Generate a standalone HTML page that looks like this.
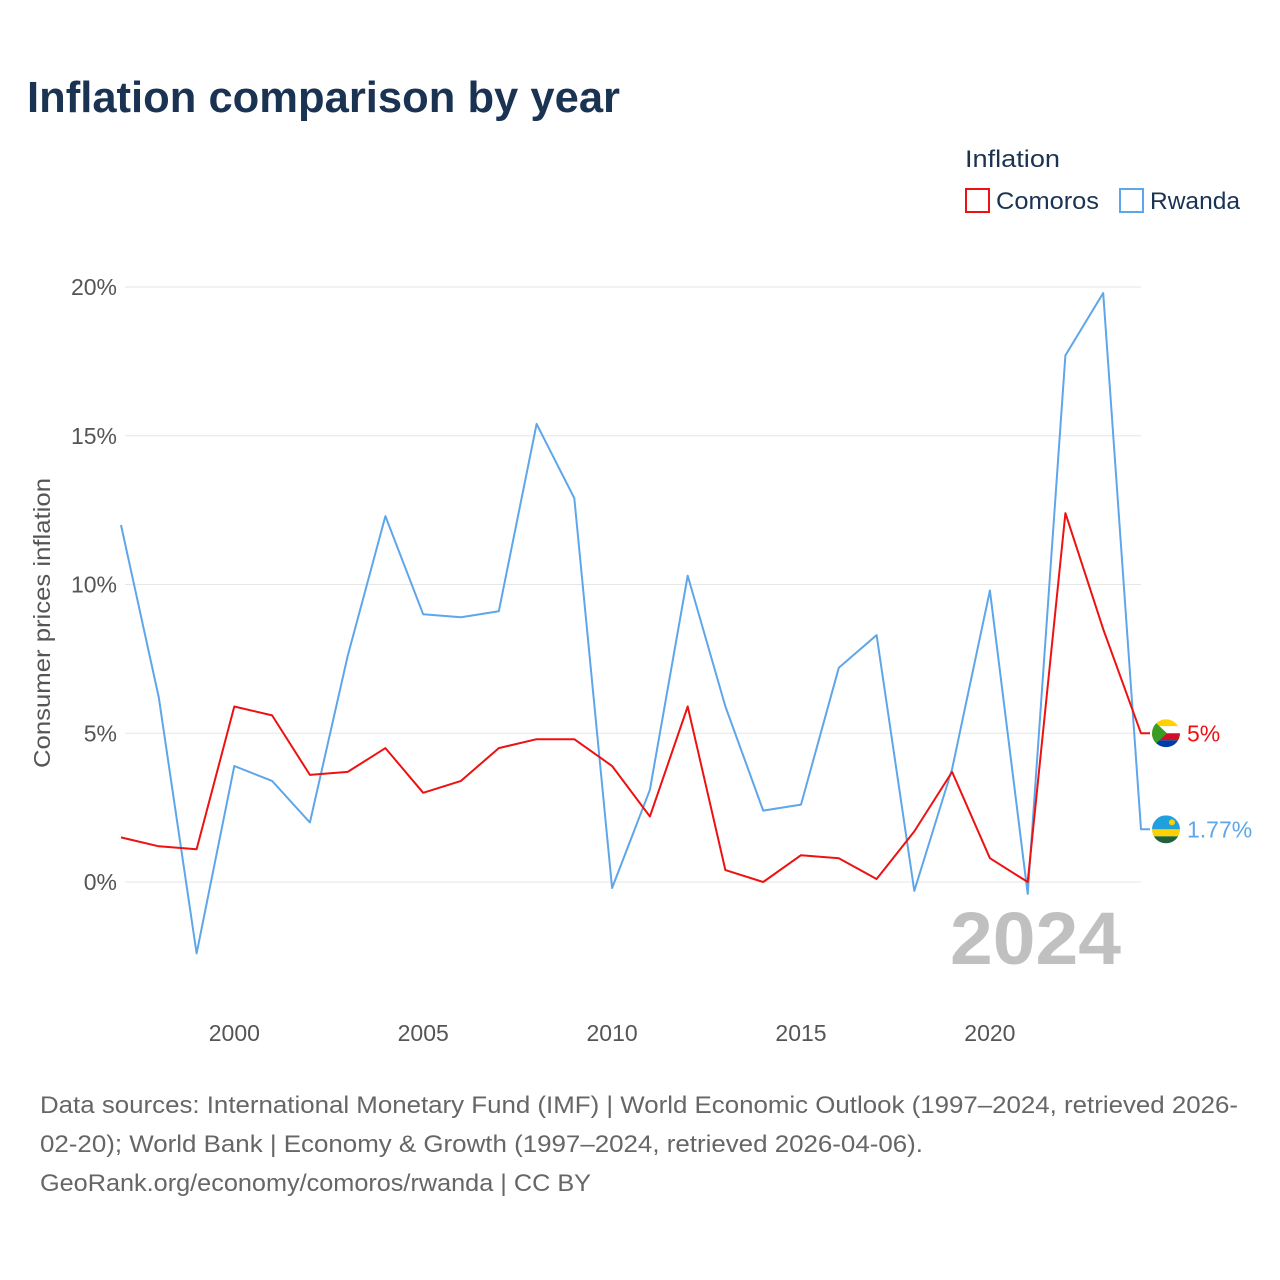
<!DOCTYPE html>
<html><head><meta charset="utf-8"><style>
body{margin:0;background:#fff;font-family:"Liberation Sans",sans-serif;}
#wrap{position:relative;width:1280px;height:1280px;overflow:hidden;}
</style></head><body>
<div id="wrap">
<svg id="chart" width="1280" height="1280" xmlns="http://www.w3.org/2000/svg">
<text x="27" y="112" font-size="44" font-weight="bold" fill="#1b3353" textLength="593" lengthAdjust="spacingAndGlyphs">Inflation comparison by year</text>
<text x="965" y="167" font-size="24" fill="#1b3353" textLength="95" lengthAdjust="spacingAndGlyphs">Inflation</text>
<g><rect x="966" y="189" width="23" height="23" fill="none" stroke="#ee1111" stroke-width="2"/><text x="996" y="209" font-size="24" fill="#1b3353" textLength="103" lengthAdjust="spacingAndGlyphs">Comoros</text></g>
<g><rect x="1120" y="189" width="23" height="23" fill="none" stroke="#5ea6ea" stroke-width="2"/><text x="1150" y="209" font-size="24" fill="#1b3353" textLength="90" lengthAdjust="spacingAndGlyphs">Rwanda</text></g>
<g id="grid"></g>
<g id="yt"></g>
<g id="xt"></g>
<text transform="translate(50,623) rotate(-90)" text-anchor="middle" font-size="23" fill="#555" textLength="290" lengthAdjust="spacingAndGlyphs">Consumer prices inflation</text>
<text x="950" y="964" font-size="74" font-weight="bold" fill="#c0c0c0" textLength="171" lengthAdjust="spacingAndGlyphs">2024</text>
<g id="series"></g>
<text x="40" y="1113" font-size="24" fill="#666" textLength="1198" lengthAdjust="spacingAndGlyphs">Data sources: International Monetary Fund (IMF) | World Economic Outlook (1997–2024, retrieved 2026-</text>
<text x="40" y="1152" font-size="24" fill="#666" textLength="883" lengthAdjust="spacingAndGlyphs">02-20); World Bank | Economy &amp; Growth (1997–2024, retrieved 2026-04-06).</text>
<text x="40" y="1191" font-size="24" fill="#666" textLength="551" lengthAdjust="spacingAndGlyphs">GeoRank.org/economy/comoros/rwanda | CC BY</text>
</svg>
</div>
<script>
const years=[1997,1998,1999,2000,2001,2002,2003,2004,2005,2006,2007,2008,2009,2010,2011,2012,2013,2014,2015,2016,2017,2018,2019,2020,2021,2022,2023,2024];
const comoros=[1.5,1.2,1.1,5.9,5.6,3.6,3.7,4.5,3.0,3.4,4.5,4.8,4.8,3.9,2.2,5.9,0.4,0.0,0.9,0.8,0.1,1.7,3.7,0.8,0.0,12.4,8.5,5.0];
const rwanda=[12.0,6.2,-2.4,3.9,3.4,2.0,7.6,12.3,9.0,8.9,9.1,15.4,12.9,-0.2,3.1,10.3,5.9,2.4,2.6,7.2,8.3,-0.3,3.8,9.8,-0.4,17.7,19.8,1.77];
const yTicks=[0,5,10,15,20];
const yTickLabels=["0%","5%","10%","15%","20%"];
const xTicks=[2000,2005,2010,2015,2020];
const endLabels=["5%","1.77%"];
const NS="http://www.w3.org/2000/svg";
const xs=y=>121+(y-1997)*(1141-121)/27;
const ys=v=>882-v*(882-287)/20;
function mk(t,a,p){const e=document.createElementNS(NS,t);for(const k in a)e.setAttribute(k,a[k]);p.appendChild(e);return e;}
const grid=document.getElementById('grid'),yt=document.getElementById('yt'),xt=document.getElementById('xt'),ser=document.getElementById('series');
yTicks.forEach((v,i)=>{
 const l=mk('line',{x1:125,x2:1141,y1:ys(v),y2:ys(v),stroke:'#e6e6e6','stroke-width':1},grid);
 
 
 const t=mk('text',{x:117,y:ys(v)+8,'text-anchor':'end','font-size':23,fill:'#555'},yt);
 t.textContent=yTickLabels[i];
 
 
});
xTicks.forEach(y=>{
 const t=mk('text',{x:xs(y),y:1041,'text-anchor':'middle','font-size':23,fill:'#555'},xt);
 t.textContent=y;
 
 
});
function line(vals,col,name){
 let d=vals.map((v,i)=>(i?'L':'M')+xs(years[i]).toFixed(1)+','+ys(vals[i]).toFixed(1)).join(' ');
 d+=' L1150,'+ys(vals[vals.length-1]).toFixed(1);
 const p=mk('path',{d:d,fill:'none',stroke:col,'stroke-width':2,'stroke-linejoin':'round'},ser);
 
 
}
line(rwanda,'#5ea6ea','rwanda-line');
line(comoros,'#ee1111','comoros-line');
function flag(v,kind,label,col,name){
 const cy=ys(v),cx=1166;
 const g=mk('g',{},ser);
 
 
 const cid='c'+kind;
 const cp=mk('clipPath',{id:cid},g);mk('circle',{cx:cx,cy:cy,r:14},cp);
 const gg=mk('g',{'clip-path':'url(#'+cid+')'},g);
 if(kind==='km'){
  const c=['#ffd100','#ffffff','#ce1126','#003da5'];
  c.forEach((f,i)=>mk('rect',{x:cx-14,y:cy-14+i*7,width:28,height:7,fill:f},gg));
  mk('polygon',{points:`${cx-14},${cy-14} ${cx+1},${cy} ${cx-14},${cy+14}`,fill:'#3a9d23'},gg);
 } else {
  mk('rect',{x:cx-14,y:cy-14,width:28,height:14,fill:'#20a0de'},gg);
  mk('rect',{x:cx-14,y:cy,width:28,height:7,fill:'#fad201'},gg);
  mk('rect',{x:cx-14,y:cy+7,width:28,height:7,fill:'#20603d'},gg);
  mk('circle',{cx:cx+6,cy:cy-7,r:3,fill:'#fad201'},gg);
 }
 const t=mk('text',{x:1187,y:cy+8,'font-size':23,fill:col},g);
 t.textContent=label;
}
flag(comoros[comoros.length-1],'km',endLabels[0],'#ee1111','comoros-end-label');
flag(rwanda[rwanda.length-1],'rw',endLabels[1],'#5ea6ea','rwanda-end-label');
</script>
</body></html>
